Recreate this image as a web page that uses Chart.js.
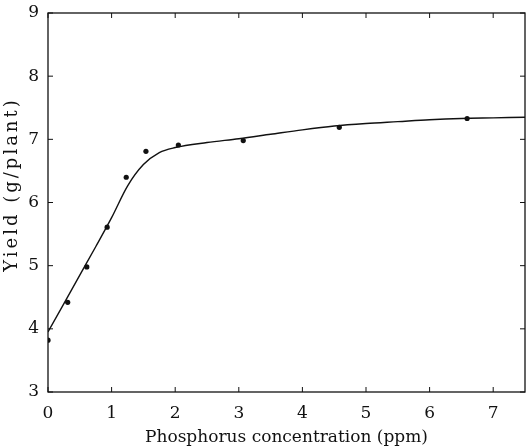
<!DOCTYPE html>
<html>
<head>
<meta charset="utf-8">
<script src="https://cdn.jsdelivr.net/npm/chart.js@4"></script>
<style>
    html, body { margin: 0; padding: 0; background: #ffffff; overflow: hidden; }
    #wrap { width: 526px; height: 448px; }
</style>
</head>
<body>
<div id="wrap"><canvas id="yieldChart"></canvas></div>
<script>
// Measured points
const obsX = [0, 0.31, 0.61, 0.93, 1.23, 1.54, 2.05, 3.07, 4.58, 6.59];
const obsY = [3.82, 4.42, 4.98, 5.61, 6.40, 6.81, 6.91, 6.98, 7.19, 7.33];

// Fitted curve
const fitX = [0, 0.25, 0.5, 0.75, 1.0, 1.25, 1.5, 1.75, 2.0, 2.5, 3.0, 3.5, 4.0, 4.5, 5.0, 5.5, 6.0, 6.5, 7.0, 7.5];
const fitY = [3.95, 4.40, 4.85, 5.30, 5.76, 6.26, 6.60, 6.79, 6.87, 6.95, 7.01, 7.08, 7.15, 7.21, 7.25, 7.28, 7.31, 7.33, 7.34, 7.35];

// Axis ticks
const xTicks = [0, 1, 2, 3, 4, 5, 6, 7];
const yTicks = [3, 4, 5, 6, 7, 8, 9];
const yTitle = 'Yield (g/plant)';

const serif = '"DejaVu Serif", "Liberation Serif", serif';

// Draws the frame, inward tick marks and the spaced-out y title
const framePlugin = {
    id: 'frame',
    afterDraw(chart) {
        const { ctx, chartArea: a, scales } = chart;
        ctx.save();
        ctx.strokeStyle = '#111';
        ctx.lineWidth = 1.3;
        ctx.strokeRect(a.left, a.top, a.right - a.left, a.bottom - a.top);
        ctx.lineWidth = 1;
        ctx.beginPath();
        xTicks.forEach(v => {
            const px = scales.x.getPixelForValue(v);
            ctx.moveTo(px, a.bottom); ctx.lineTo(px, a.bottom - 5);
            ctx.moveTo(px, a.top); ctx.lineTo(px, a.top + 5);
        });
        yTicks.forEach(v => {
            const py = scales.y.getPixelForValue(v);
            ctx.moveTo(a.left, py); ctx.lineTo(a.left + 5, py);
            ctx.moveTo(a.right, py); ctx.lineTo(a.right - 5, py);
        });
        ctx.stroke();

        // y title
        ctx.translate(12, (a.top + a.bottom) / 2 - 18);
        ctx.rotate(-Math.PI / 2);
        ctx.fillStyle = '#111';
        ctx.font = '18px ' + serif;
        ctx.letterSpacing = '3px';
        ctx.textAlign = 'center';
        ctx.textBaseline = 'middle';
        ctx.fillText(yTitle, 0, 0);
        ctx.restore();
    }
};

new Chart(document.getElementById('yieldChart'), {
    type: 'scatter',
    data: {
        datasets: [
            {
                data: fitX.map((x, i) => ({ x: x, y: fitY[i] })),
                showLine: true,
                borderColor: '#111',
                borderWidth: 1.4,
                pointRadius: 0,
                cubicInterpolationMode: 'monotone'
            },
            {
                data: obsX.map((x, i) => ({ x: x, y: obsY[i] })),
                backgroundColor: '#111',
                borderWidth: 0,
                pointRadius: 2.6
            }
        ]
    },
    options: {
        responsive: true,
        maintainAspectRatio: false,
        animation: false,
        layout: { autoPadding: false, padding: { top: 13, right: 1, left: 0, bottom: 0 } },
        plugins: {
            legend: { display: false },
            tooltip: { enabled: false }
        },
        scales: {
            x: {
                type: 'linear',
                min: 0,
                max: 7.5,
                afterBuildTicks: scale => { scale.ticks = xTicks.map(v => ({ value: v })); },
                afterFit: scale => { scale.height = 56; },
                grid: { display: false },
                border: { display: false },
                ticks: {
                    color: '#111',
                    padding: 3,
                    maxRotation: 0,
                    font: { family: serif, size: 17 }
                },
                title: {
                    display: true,
                    text: 'Phosphorus concentration (ppm)',
                    color: '#111',
                    padding: { top: 0, bottom: 0 },
                    font: { family: serif, size: 17 }
                }
            },
            y: {
                min: 3,
                max: 9,
                afterBuildTicks: scale => { scale.ticks = yTicks.map(v => ({ value: v })); },
                afterFit: scale => { scale.width = 48; },
                grid: { display: false },
                border: { display: false },
                ticks: {
                    color: '#111',
                    padding: 1,
                    font: { family: serif, size: 17 }
                }
            }
        }
    },
    plugins: [framePlugin]
});
</script>
</body>
</html>
